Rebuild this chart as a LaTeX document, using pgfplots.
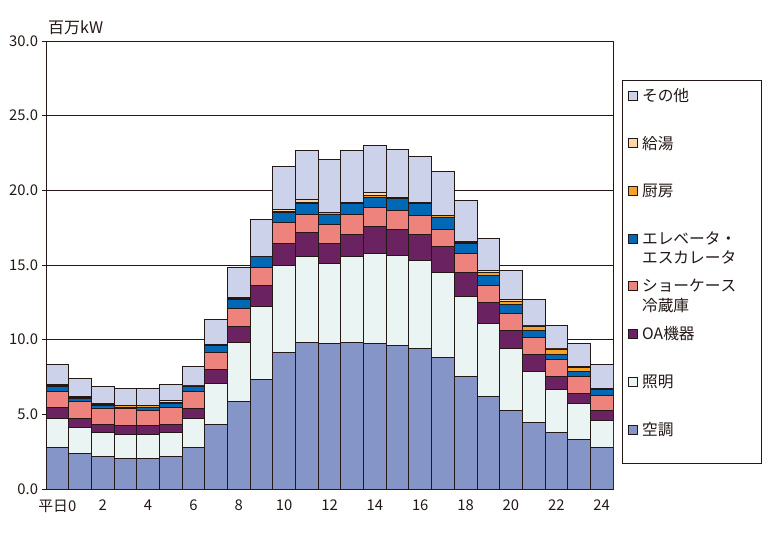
\documentclass[border=0pt]{standalone}
\usepackage{pgfplots}
\pgfplotsset{compat=1.18}
\usepackage{pgfplotstable}
\usepackage{fontspec}
\setmainfont{Noto Sans CJK JP}[Kerning=Off]
\definecolor{linec}{HTML}{231815}
\definecolor{cKucho}{HTML}{8595C7}
\definecolor{cShomei}{HTML}{EAF4F2}
\definecolor{cOA}{HTML}{6A2260}
\definecolor{cShow}{HTML}{EE827C}
\definecolor{cElev}{HTML}{0068B4}
\definecolor{cKitchen}{HTML}{F5A12A}
\definecolor{cKyuto}{HTML}{FBD7A8}
\definecolor{cOther}{HTML}{CDD2EB}
\newcommand{\lf}{\fontsize{15.7bp}{20bp}\selectfont}
\pgfplotstableread{
h a b c d e f g o
0 2.79 1.95 0.73 1.07 0.31 0.10 0.06 1.34
1 2.39 1.74 0.61 1.13 0.18 0.11 0.07 1.18
2 2.19 1.61 0.53 1.10 0.18 0.06 0.09 1.12
3 2.06 1.60 0.61 1.14 0.06 0.11 0.03 1.14
4 2.06 1.60 0.61 1.00 0.18 0.13 0.02 1.14
5 2.19 1.61 0.53 1.12 0.29 0.09 0.08 1.10
6 2.79 1.95 0.67 1.13 0.34 0.02 0.02 1.30
7 4.33 2.75 0.94 1.14 0.48 0.01 0.01 1.72
8 5.87 3.96 1.04 1.23 0.61 0.08 0.07 2.01
9 7.35 4.89 1.40 1.21 0.71 0.01 0.01 2.48
10 9.16 5.82 1.48 1.40 0.67 0.07 0.09 2.92
11 9.83 5.76 1.60 1.21 0.74 0.08 0.14 3.30
12 9.76 5.36 1.34 1.27 0.67 0.09 0.06 3.53
13 9.83 5.76 1.47 1.34 0.74 0.04 0.04 3.44
14 9.76 6.03 1.81 1.27 0.64 0.16 0.18 3.17
15 9.62 6.03 1.74 1.28 0.77 0.06 0.06 3.19
16 9.42 5.90 1.74 1.27 0.81 0.04 0.04 3.06
17 8.82 5.69 1.75 1.13 0.81 0.11 0.04 2.93
18 7.55 5.36 1.60 1.28 0.64 0.11 0.07 2.73
19 6.21 4.89 1.40 1.14 0.67 0.18 0.18 2.12
20 5.27 4.15 1.21 1.14 0.60 0.18 0.16 1.94
21 4.47 3.41 1.14 1.14 0.44 0.32 0.04 1.75
22 3.80 2.88 0.87 1.14 0.31 0.38 0.04 1.54
23 3.33 2.41 0.67 1.14 0.33 0.27 0.07 1.54
24 2.79 1.81 0.67 1.01 0.40 0.03 0.03 1.61
}\datatable
\begin{document}
\begin{tikzpicture}
\useasboundingbox (-46bp,-50bp) rectangle (722bp,489bp);
\begin{axis}[
  at={(0,0)}, anchor=south west,
  scale only axis, width=567bp, height=448bp,
  ybar stacked, bar width=1,
  xmin=-0.5, xmax=24.5, ymin=0, ymax=30,
  xtick={0,2,...,24},
  xticklabels={平日0,2,4,6,8,10,12,14,16,18,20,22,24},
  ytick={0,5,...,30},
  yticklabel style={/pgf/number format/fixed, /pgf/number format/fixed zerofill, /pgf/number format/precision=1, xshift=-1bp},
  /pgf/number format/assume math mode=true,
  ymajorgrids,
  grid style={line width=0.8bp, color=linec},
  axis line style={line width=0.9bp, color=linec},
  ytick pos=left, tick align=outside, major tick length=3.5bp,
  y tick style={line width=0.8bp, color=linec},
  x tick style={draw=none},
  ticklabel style={font=\fontsize{14.8bp}{17bp}\selectfont, text=linec},
  xticklabel style={yshift=-4bp},
  ylabel={百万kW},
  ylabel style={rotate=-90, at={(rel axis cs:0,1)}, anchor=south west, inner sep=0pt, xshift=2bp, yshift=6bp, font=\fontsize{16bp}{18bp}\selectfont, text=linec},
  legend image code/.code={\draw[#1, line width=0.6bp] (0bp,-4.5bp) rectangle (9bp,4.5bp);},
  reverse legend,
  legend style={at={(rel axis cs:1.0159,0.9129)}, anchor=north west, draw=linec, line width=0.9bp,
    inner xsep=6bp, inner ysep=0bp, row sep=17.7bp, column sep=2bp,
    text=linec,
    cells={anchor=west},
    nodes={minimum height=30bp, text width=111bp, align=left, inner xsep=2bp, inner ysep=0bp}},
  every axis plot/.append style={draw=linec, line width=0.8bp},
]
\addlegendimage{empty legend}
\addlegendentry[minimum height=0.4bp]{}
\addplot[fill=cKucho] table[x=h,y=a]{\datatable};
\addlegendentry{\lf 空調}
\addplot[fill=cShomei] table[x=h,y=b]{\datatable};
\addlegendentry{\lf 照明}
\addplot[fill=cOA] table[x=h,y=c]{\datatable};
\addlegendentry{\lf OA機器}
\addplot[fill=cShow] table[x=h,y=d]{\datatable};
\addlegendentry{\lf ショーケース\\[5bp]\lf 冷蔵庫}
\addplot[fill=cElev] table[x=h,y=e]{\datatable};
\addlegendentry{\lf エレベータ・\\[5bp]\lf エスカレータ}
\addplot[fill=cKitchen] table[x=h,y=f]{\datatable};
\addlegendentry{\lf 厨房}
\addplot[fill=cKyuto] table[x=h,y=g]{\datatable};
\addlegendentry{\lf 給湯}
\addplot[fill=cOther] table[x=h,y=o]{\datatable};
\addlegendentry{\lf その他}
\end{axis}
\end{tikzpicture}
\end{document}
